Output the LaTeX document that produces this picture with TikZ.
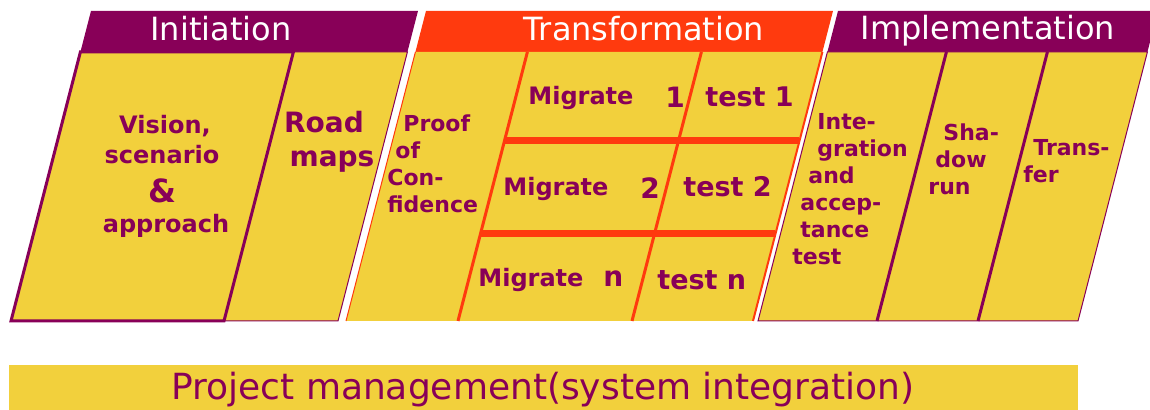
\documentclass[tikz,border=0pt]{standalone}
\usepackage{fontspec}
\setmainfont{DejaVu Sans}
\usetikzlibrary{positioning, calc}
\definecolor{myyellow}{RGB}{242,208,60}
\definecolor{mypurple}{RGB}{136,0,88}
\definecolor{myorange}{RGB}{255,58,14}
\tikzset{
  cellfill/.style={fill=myyellow},
  thinedge/.style={line width=0.5pt},
  divider/.style={line width=1.5pt},
  rowbar/.style={line width=3.5pt, color=myorange},
  hdrtext/.style={text=white, font=\fontsize{16}{19}\selectfont,
    inner sep=0pt, anchor=base},
  celltext/.style={text=mypurple, font=\bfseries\fontsize{11}{13.5}\selectfont,
    inner sep=0pt, align=left, anchor=base west},
  bigtext/.style={celltext, font=\bfseries\fontsize{12}{15}\selectfont,
    align=center, anchor=base},
  migtext/.style={celltext, font=\bfseries\fontsize{12}{15}\selectfont},
  testtext/.style={celltext, font=\bfseries\fontsize{13.5}{16}\selectfont},
  pmtext/.style={text=mypurple, font=\fontsize{18}{21}\selectfont,
    inner sep=0pt, anchor=base}
}
\newcommand{\dig}[2][-1.5pt]{\raisebox{#1}{\fontsize{14}{16}\selectfont #2}}

\begin{document}
\begin{tikzpicture}[x=0.5pt, y=0.5pt]
  \useasboundingbox (0,0) rectangle (1150,410);
  \clip (0,0) rectangle (1150,410);

  % the three phases, drawn upright and slanted to the right
  \begin{scope}[shift={(0,89)}, xslant=0.258]
    % Initiation
    \fill[mypurple] (11,269) rectangle (338,310);
    \draw[cellfill, draw=mypurple, thinedge] (224,0) rectangle (338,269);
    \draw[cellfill, draw=mypurple, divider] (11,0) rectangle (224,269);

    % Transformation
    \fill[myorange] (346,269) rectangle (753,310);
    \fill[myyellow] (346,0) rectangle (753,269);
    \draw[myorange, thinedge] (346,0) -- (346,269);
    \draw[myorange, line width=1pt] (753,0) -- (753,269);
    \draw[myorange, divider] (458,0) -- (458,269);
    \draw[myorange, divider] (632,0) -- (632,269);
    \draw[rowbar] (458,180) -- (753,180);
    \draw[rowbar] (458,87) -- (753,87);

    % Implementation
    \fill[mypurple] (758,269) rectangle (1078,310);
    \draw[cellfill, draw=mypurple, thinedge] (758,0) rectangle (1078,269);
    \draw[mypurple, divider] (877,0) -- (877,269);
    \draw[mypurple, divider] (978,0) -- (978,269);
  \end{scope}

  % phase titles
  \node[hdrtext] (init)  at (221,369) {Initiation};
  \node[hdrtext] (trans) at (644,369) {Transformation};
  \node[hdrtext] (impl)  at (988,370) {Implementation};

  % Initiation cells (multi-line nodes sit on their last line)
  \node[bigtext] (vision) at (162,177)
    {\hspace*{3pt}Vision,\\scenario\hspace*{6pt}\\[4.5pt]{\fontsize{16}{15}\selectfont\&}\\
     \hspace*{4pt}approach};
  \node[bigtext, font=\bfseries\fontsize{14}{17}\selectfont] (road) at (324,243)
    {Road\\\hspace*{8pt}maps};

  % Transformation cells
  \node[celltext] (proof) at (387,197)
    {\hspace*{8pt}Proof\\\hspace*{4pt}of\\Con-\\fidence};
  \node[migtext] (mig1) at (528,305) {Migrate\hspace{16pt}\dig{1}};
  \node[migtext] (mig2) at (503,214) {Migrate\hspace{16pt}\dig{2}};
  \node[migtext] (mign) at (478,123) {Migrate\hspace{10pt}\dig[0pt]{n}};
  \node[testtext] (test1) at (705,303) {test 1};
  \node[testtext] (test2) at (683,213) {test 2};
  \node[testtext] (testn) at (657,120) {test n};

  % Implementation cells
  \node[celltext] (integ) at (792,145)
    {\hspace*{12.5pt}Inte-\\\hspace*{12.5pt}gration\\\hspace*{8pt}and\\
     \hspace*{4pt}accep-\\\hspace*{4pt}tance\\test};
  \node[celltext] (shadow) at (928,215)
    {\hspace*{7.5pt}Sha-\\\hspace*{3.5pt}dow\\run};
  \node[celltext] (transfer) at (1023,227) {\hspace*{5pt}Trans-\\fer};

  % project management bar
  \fill[myyellow] (9,0) rectangle (1078,45);
  \node[pmtext] (pm) at (543,10) {Project management(system integration)};
\end{tikzpicture}
\end{document}
